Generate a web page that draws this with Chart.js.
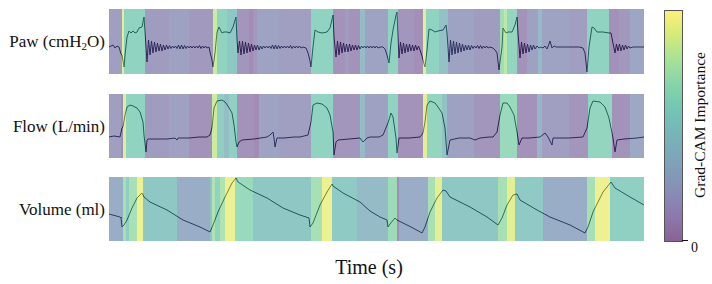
<!DOCTYPE html>
<html>
<head>
<meta charset="utf-8">
<script src="https://cdn.jsdelivr.net/npm/chart.js@4.4.1/dist/chart.umd.min.js"></script>
<style>
body { margin: 0; background: #fff; width: 712px; height: 284px; position: relative; overflow: hidden; font-family: "Liberation Serif", serif; color: #111; }
canvas { position: absolute; left: 109px; }
.lab { position: absolute; right: 607px; font-size: 17px; white-space: nowrap; transform: translateY(-50%); }
.lab sub { font-size: 11px; vertical-align: -3px; }
#xt { position: absolute; left: 369px; top: 267px; transform: translate(-50%, -50%); font-size: 20px; }
#cbar { position: absolute; left: 664px; top: 10px; width: 17px; height: 230px; border: 1px solid #555; }
#tick { position: absolute; left: 682px; top: 240px; width: 6px; height: 1px; background: #111; }
#zero { position: absolute; left: 691px; top: 248px; transform: translateY(-50%); font-size: 14px; }
#ct { position: absolute; left: 700px; top: 125px; transform: translate(-50%, -50%) rotate(-90deg); font-size: 15.5px; white-space: nowrap; }
</style>
</head>
<body>
<canvas id="paw" width="535" height="65" style="top:9px"></canvas>
<canvas id="flow" width="535" height="64" style="top:94px"></canvas>
<canvas id="vol" width="535" height="64" style="top:177px"></canvas>
<div class="lab" style="top:42px">Paw (cmH<sub>2</sub>O)</div>
<div class="lab" style="top:127px">Flow (L/min)</div>
<div class="lab" style="top:210px">Volume (ml)</div>
<div id="xt">Time (s)</div>
<div id="cbar"></div>
<div id="tick"></div>
<div id="zero">0</div>
<div id="ct">Grad-CAM Importance</div>
<script>
// time in samples
const pawT = [0,2,4,6,8,10,12,13,15,16,18,20,22,24,26,28,30,33,35,36,38,
  39.5,41,42.5,44,45.5,47,48.5,50,51.5,53,54.5,56,57.5,59,
  60.5,62,63.5,65,66.5,68,69.5,71,72.5,74,75.5,77,78.5,80,81.5,83,84.5,86,87.5,89,90.5,92,93.5,95,96.5,98,100,
  101,103,104,106,108,110,113,115,118,121,124,127,128,129,
  130.5,132,133.5,135,136.5,138,139.5,141,142.5,144,145.5,147,148.5,150,151.5,153,
  154.5,156,157.5,159,160.5,162,163.5,165,166.5,168,169.5,171,172.5,174,175.5,177,178.5,180,181.5,183,184.5,186,187.5,189,190.5,192,194,197,199,
  201,202,204,206,209,213,218,221,224,225,227,
  228.5,230,231.5,233,234.5,236,237.5,239,240.5,242,243.5,245,246.5,248,249.5,251,252.5,254,255.5,257,258.5,260,261.5,263,264.5,266,267.5,269,271,274,
  276,278,280,282,284,287,288,289,290,
  291.5,293,294.5,296,297.5,299,300.5,302,303.5,305,306.5,308,309.5,311,
  313,315,316,318,320,323,326,329,334,337,338,340,
  341.5,343,344.5,346,347.5,349,350.5,352,353.5,355,356.5,358,359.5,361,
  362.5,364,365.5,367,368.5,370,371.5,373,374.5,376,377.5,379,381,384,386,
  388,390,393,394,397,399,403,406,408,409,411,
  412.5,414,415.5,417,418.5,420,421.5,423,424.5,426,428,430,432,434,
  436,438,440,441,443,445,447,450,455,460,465,470,474,
  476,478,480,483,485,488,494,500,502,504,506,
  507.5,509,510.5,512,513.5,515,516.5,518,519.5,521,524,528,532,535];
const pawV = [27,28,29,26,28,27,20,19,7,19,37,43,41,43,41,42,46,47,57,42,12,
  34,19,33,21,32,22,31,23,30,23,29,24,29,25,
  28.5,25.5,28,26,28,25.5,29,25,29,25,28.5,25.5,28,26,28,26,28,26,28,26,28.5,25.5,28,26,28,26,27,
  22,14,7,21,42,47,41,42,42,41,47,57,34,21,
  33,19,33,20,32,21,31,22,30,23,29,24,29,24,28,25,
  28,26,28,26,28,25.5,29,25,29,25,28.5,25.5,28,26,28,26,28,26,28.5,25.5,28,26,28,26,28,26,27,26,21,
  13,7,27,44,42,41,42,46,59,37,17,
  33,19,32,21,31,22,30,22,30,23,29,24,29,24,28.5,25,28,26,28,26,28,26,28,26,28,26,28,26,27,27,
  25,19,11,31,44,59,62,37,16,
  32,20,31,21,30,22,30,23,29,23,29,24,28,24,
  18,10,7,24,45,44,42,43,44,49,41,12,
  34,19,33,20,32,21,31,22,30,23,29,24,29,24,
  28.5,25.5,28,26,28.5,25.5,28.5,25.5,28,26,28,26,27,26,24,
  21,4,27,46,41,42,42,49,57,41,16,
  32,20,31,21,30,22,29,24,29,25,28,26,27,26,
  28,25,30,33,26,28,27,27,27,27,27,27,26,
  21,2,27,47,46,42,42,41,41,31,21,
  30,23,30,23,29,24,29,25,28,26,27,27,27,27];

const flowT = [0,5,11,13,14,16,18,21,24,28,31,34,35,37,38,39,50,58,66,68,69,80,90,98,
  101,103,105,108,113,116,119,123,125,127,128,130,133,145,158,161,164,165,166,168,175,185,191,
  199,202,204,208,213,218,221,224,225,227,229,240,251,254,258,261,270,
  274,279,282,284,287,288,290,300,311,
  314,316,318,321,326,329,333,336,338,341,350,361,366,371,380,384,
  388,391,394,398,401,405,408,410,413,420,431,436,439,443,444,460,474,
  478,481,484,491,496,500,504,506,508,515,528,535];
const flowV = [0,1,0,9,10,22,30,32,31,29,25,15,2,-15,-3,-2,-2,-2,-1,-3,-1,-1,0,0,
  2,9,29,36,37,35,31,24,12,-5,-10,-5,-3,-2,0,2,5,-1,-10,-1,-1,0,0,
  2,15,32,34,33,29,22,5,-18,-5,-3,-2,-1,-5,-1,0,0,
  2,14,24,20,-1,-16,-1,-1,0,
  4,15,32,36,34,30,24,9,-18,-3,-1,-1,-3,-1,0,0,
  5,22,34,34,30,22,5,-8,-1,-1,0,4,0,-8,-1,-1,0,
  9,29,36,35,30,19,-1,-15,-3,-2,-1,0];

const volT = [0,11,12,13,15,18,23,28,33,35,41,58,74,91,101,104,109,116,123,127,129,141,158,174,191,200,
  201,204,211,218,223,224,234,251,261,271,278,279,281,286,288,294,304,313,
  316,321,328,334,337,341,361,378,389,393,398,404,408,411,428,441,461,476,
  479,484,494,502,506,521,535];
const volV = [270,240,230,140,160,210,330,430,480,440,390,310,210,140,90,160,290,440,580,630,590,510,430,330,260,230,
  140,180,360,490,570,550,480,390,300,240,210,140,170,230,210,180,130,80,
  140,290,430,510,500,440,340,240,160,230,360,460,470,410,310,240,160,80,
  140,290,490,590,530,440,360];

// Grad-CAM importance: stripe edges (samples) and value of each stripe
const pawEdges = [0,13,15,36,60,80,104,108,118,128,140,144,148,170,202,224,236,240,251,256,279,289,305,314,317,330,339,365,391,395,398,408,418,429,433,460,478,500,510,521,535];
const pawCam = [0.18,0.92,0.6,0.17,0.2,0.15,0.85,0.6,0.5,0.13,0.08,0.14,0.22,0.19,0.6,0.11,0.17,0.11,0.4,0.22,0.6,0.13,0.09,0.92,0.6,0.45,0.22,0.17,0.7,0.8,0.62,0.11,0.2,0.38,0.22,0.18,0.6,0.1,0.14,0.24];

const flowEdges = [0,12,14,17,36,60,80,103,108,115,120,128,145,150,170,202,224,251,256,279,289,314,318,333,338,365,391,408,428,433,460,479,503,521,535];
const flowCam = [0.18,0.08,0.9,0.6,0.17,0.2,0.11,0.85,0.55,0.42,0.58,0.11,0.07,0.22,0.18,0.6,0.13,0.4,0.2,0.6,0.11,0.92,0.62,0.45,0.2,0.13,0.65,0.11,0.35,0.18,0.13,0.62,0.11,0.25];

const volEdges = [0,14,17,20,28,34,68,101,103,106,111,116,126,144,202,213,223,248,279,288,290,319,326,333,389,398,406,434,478,486,501,535];
const volCam = [0.3,0.72,0.55,0.72,0.95,0.5,0.3,0.45,0.75,0.6,0.75,0.95,0.65,0.5,0.72,0.95,0.52,0.4,0.68,0.08,0.3,0.72,0.92,0.5,0.72,0.92,0.52,0.3,0.72,0.95,0.58];

const VIR = [[68,1,84],[72,35,116],[64,67,135],[52,94,141],[41,120,142],[32,144,140],[34,167,132],[68,190,112],[121,209,81],[189,222,38],[253,231,37]];
function viridis(v, a) {
  v = Math.max(0, Math.min(1, v));
  const p = v * 10, i = Math.min(9, Math.floor(p)), f = p - i;
  const c = VIR[i].map((x, k) => Math.round(x + (VIR[i + 1][k] - x) * f));
  return "rgba(" + c.join(",") + "," + a + ")";
}

function drawPanel(id, t, v, edges, cam, ymin, ymax) {
  new Chart(document.getElementById(id), {
    type: "line",
    data: {
      datasets: [
        {
          data: t.map((x, i) => ({x: x, y: v[i]})),
          borderColor: "#1c1c34",
          borderWidth: 1,
          pointRadius: 0,
          tension: 0,
          order: 1
        },
        {
          data: edges.map(x => ({x: x, y: ymax})),
          borderColor: "rgba(0,0,0,0)",
          borderWidth: 0,
          pointRadius: 0,
          fill: "start",
          backgroundColor: viridis(cam[0], 0.5),
          segment: {
            backgroundColor: ctx => viridis(cam[ctx.p0DataIndex], 0.5)
          },
          order: 0
        }
      ]
    },
    options: {
      responsive: false,
      animation: false,
      events: [],
      plugins: {legend: {display: false}, tooltip: {enabled: false}},
      scales: {
        x: {type: "linear", min: 0, max: 535, display: false},
        y: {min: ymin, max: ymax, display: false}
      }
    }
  });
}

drawPanel("paw", pawT, pawV, pawEdges, pawCam, 0, 65);
drawPanel("flow", flowT, flowV, flowEdges, flowCam, -21, 43);
drawPanel("vol", volT, volV, volEdges, volCam, 0, 640);

// colour bar
let stops = [];
for (let i = 0; i <= 10; i++) stops.push(viridis(1 - i / 10, 0.62) + " " + (i * 10) + "%");
document.getElementById("cbar").style.background = "linear-gradient(" + stops.join(",") + ")";
</script>
</body>
</html>
